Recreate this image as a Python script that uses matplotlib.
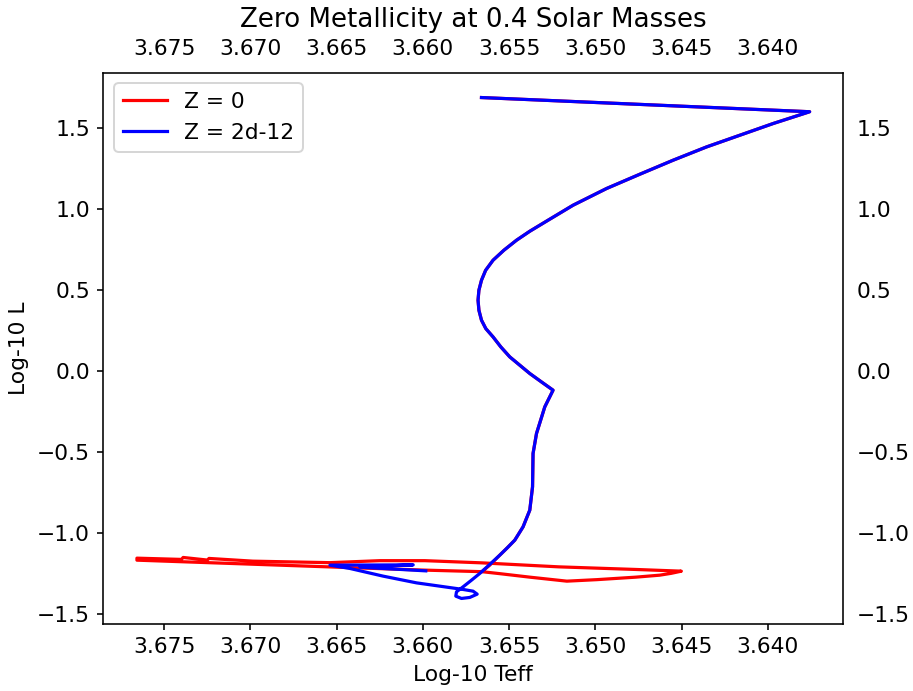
import matplotlib
matplotlib.use("Agg")
import matplotlib.pyplot as plt

plt.rcParams["font.size"] = 10.9
plt.rcParams["lines.linewidth"] = 1.6
plt.rcParams["xtick.major.size"] = 3.2
plt.rcParams["ytick.major.size"] = 3.2

# evolutionary tracks, log10(Teff) and log10(L)
# Z = 2d-12 track
teff_z2 = [3.65660, 3.63757, 3.63969, 3.64162, 3.64355, 3.64549, 3.64742, 3.64935,
           3.65129, 3.65274, 3.65380, 3.65457, 3.65530, 3.65593, 3.65636, 3.65660,
           3.65675, 3.65680, 3.65675, 3.65660, 3.65635, 3.65593, 3.65548, 3.65496,
           3.65438, 3.65380, 3.65310, 3.65245, 3.65293, 3.65341, 3.65361, 3.65364,
           3.65380, 3.65419, 3.65467, 3.65510, 3.65554, 3.65612, 3.65670, 3.65720,
           3.65767, 3.65805, 3.65809, 3.65776, 3.65728, 3.65685, 3.65709, 3.65767,
           3.66037, 3.66230, 3.66423, 3.66539, 3.66056, 3.66365, 3.65983]
logl_z2 = [1.6895, 1.6019, 1.5290, 1.4568, 1.3846, 1.3025, 1.2160, 1.1278,
           1.0247, 0.9321, 0.8640, 0.8086, 0.7470, 0.6852, 0.6230, 0.5617,
           0.5000, 0.4383, 0.3765, 0.3148, 0.2630, 0.2117, 0.1500, 0.0883,
           0.0370, -0.0142, -0.0680, -0.1173, -0.2204, -0.3846, -0.5080, -0.7142,
           -0.8580, -0.9611, -1.0432, -1.0900, -1.1358, -1.1930, -1.2488, -1.2920,
           -1.3315, -1.3623, -1.3889, -1.4031, -1.3969, -1.3765, -1.3580, -1.3475,
           -1.3068, -1.2654, -1.2179, -1.1975, -1.1957, -1.2099, -1.2327]

# Z = 0 track (pre-main-sequence part runs under the Z = 2d-12 one)
teff_z0 = teff_z2[:37] + [3.65612, 3.65658, 3.65983, 3.66499, 3.67658, 3.67658,
                          3.67400, 3.67390, 3.67250, 3.67240, 3.66986, 3.66539,
                          3.66250, 3.65989, 3.65658, 3.65212, 3.64765, 3.64501,
                          3.64560, 3.64626, 3.64765, 3.64991, 3.65165, 3.65380,
                          3.65554, 3.65658]
logl_z0 = logl_z2[:37] + [-1.1975, -1.2377, -1.2284, -1.2099, -1.1667, -1.1543,
                          -1.1620, -1.1500, -1.1660, -1.1560, -1.1728, -1.1821,
                          -1.1698, -1.1698, -1.1833, -1.2080, -1.2241, -1.2346,
                          -1.2480, -1.2593, -1.2716, -1.2870, -1.2963, -1.2716,
                          -1.2500, -1.2377]

fig = plt.figure(figsize=(913 / 144, 691 / 144), dpi=144)
ax = fig.add_axes([103.3 / 913, 67.5 / 691, 740 / 913, 551 / 691])

ax.plot(teff_z0, logl_z0, color="red", label="Z = 0")
ax.plot(teff_z2, logl_z2, color="blue", label="Z = 2d-12")
ax.invert_xaxis()

ax.tick_params(labeltop=True, labelright=True, top=False, right=False)
ax.set_xlabel("Log-10 Teff")
ax.set_ylabel("Log-10 L")
ax.set_title("Zero Metallicity at 0.4 Solar Masses")
ax.legend(loc="upper left")

fig.savefig("out.png", dpi=144)
